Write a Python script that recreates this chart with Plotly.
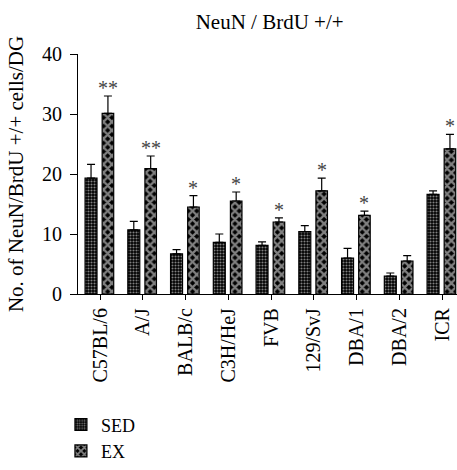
import plotly.graph_objects as go

strains = ["C57BL/6", "A/J", "BALB/c", "C3H/HeJ", "FVB", "129/SvJ", "DBA/1", "DBA/2", "ICR"]
sed_vals = [19.3, 10.7, 6.7, 8.6, 8.1, 10.4, 6.0, 3.0, 16.6]
sed_err = [2.3, 1.4, 0.7, 1.4, 0.6, 1.0, 1.6, 0.5, 0.6]
ex_vals = [30.1, 20.9, 14.5, 15.5, 12.0, 17.2, 13.1, 5.5, 24.2]
ex_err = [2.9, 2.1, 1.9, 1.5, 0.7, 2.1, 0.7, 0.9, 2.4]
stars = ["**", "**", "*", "*", "*", "*", "*", "", "*"]

FONT = "Liberation Serif"

fig = go.Figure()
fig.add_trace(go.Bar(
    x=strains, y=sed_vals, name="SED",
    width=0.28, offset=-0.35,
    marker=dict(color="black", line=dict(color="black", width=1.2),
                pattern=dict(shape=".", fgcolor="white", bgcolor="black",
                             size=3, solidity=0.4, fillmode="overlay")),
    error_y=dict(type="data", array=sed_err, arrayminus=[0]*9, symmetric=False,
                 color="black", thickness=1.2, width=4),
))
fig.add_trace(go.Bar(
    x=strains, y=ex_vals, name="EX",
    width=0.27, offset=0.05,
    marker=dict(color="black", line=dict(color="black", width=1.2),
                pattern=dict(shape="x", fgcolor="white", bgcolor="black",
                             size=6, solidity=0.62, fillmode="overlay")),
    error_y=dict(type="data", array=ex_err, arrayminus=[0]*9, symmetric=False,
                 color="black", thickness=1.2, width=4),
))

for i, s in enumerate(stars):
    if s:
        fig.add_annotation(x=i + 0.185, y=ex_vals[i] + ex_err[i], xref="x", yref="y",
                           text=s, showarrow=False, yanchor="bottom", yshift=-5,
                           font=dict(family=FONT, size=20, color="#444"))

fig.update_layout(
    width=457, height=470,
    margin=dict(l=78, r=0, t=54, b=168),
    paper_bgcolor="white", plot_bgcolor="white",
    font=dict(family=FONT, size=20, color="black"),
    title=dict(text="NeuN / BrdU +/+", x=0.59, xanchor="center", y=0.953, yanchor="middle",
               font=dict(family=FONT, size=21, color="black")),
    showlegend=True,
    legend=dict(x=-0.045, y=-0.468, xanchor="left", yanchor="top",
                font=dict(family=FONT, size=18, color="black"),
                itemwidth=30, tracegroupgap=0),
    barmode="group",
)
fig.update_xaxes(range=[-0.515, 8.35], showline=True, linecolor="black", linewidth=1.2,
                 ticks="outside", ticklen=5, tickcolor="black", tickangle=-90,
                 showgrid=False, tickfont=dict(family=FONT, size=20))
fig.update_yaxes(range=[0, 40], tickvals=[0, 10, 20, 30, 40], showline=True,
                 linecolor="black", linewidth=1.2, ticks="outside", ticklen=7,
                 tickcolor="black", showgrid=False, zeroline=False,
                 ticklabelstandoff=4,
                 title=dict(text="No. of NeuN/BrdU +/+ cells/DG", standoff=12,
                            font=dict(family=FONT, size=21)),
                 tickfont=dict(family=FONT, size=20))

fig.write_html("out.html", config={"displayModeBar": False},
               post_script="document.body.style.margin='0';document.body.style.overflow='hidden';")
